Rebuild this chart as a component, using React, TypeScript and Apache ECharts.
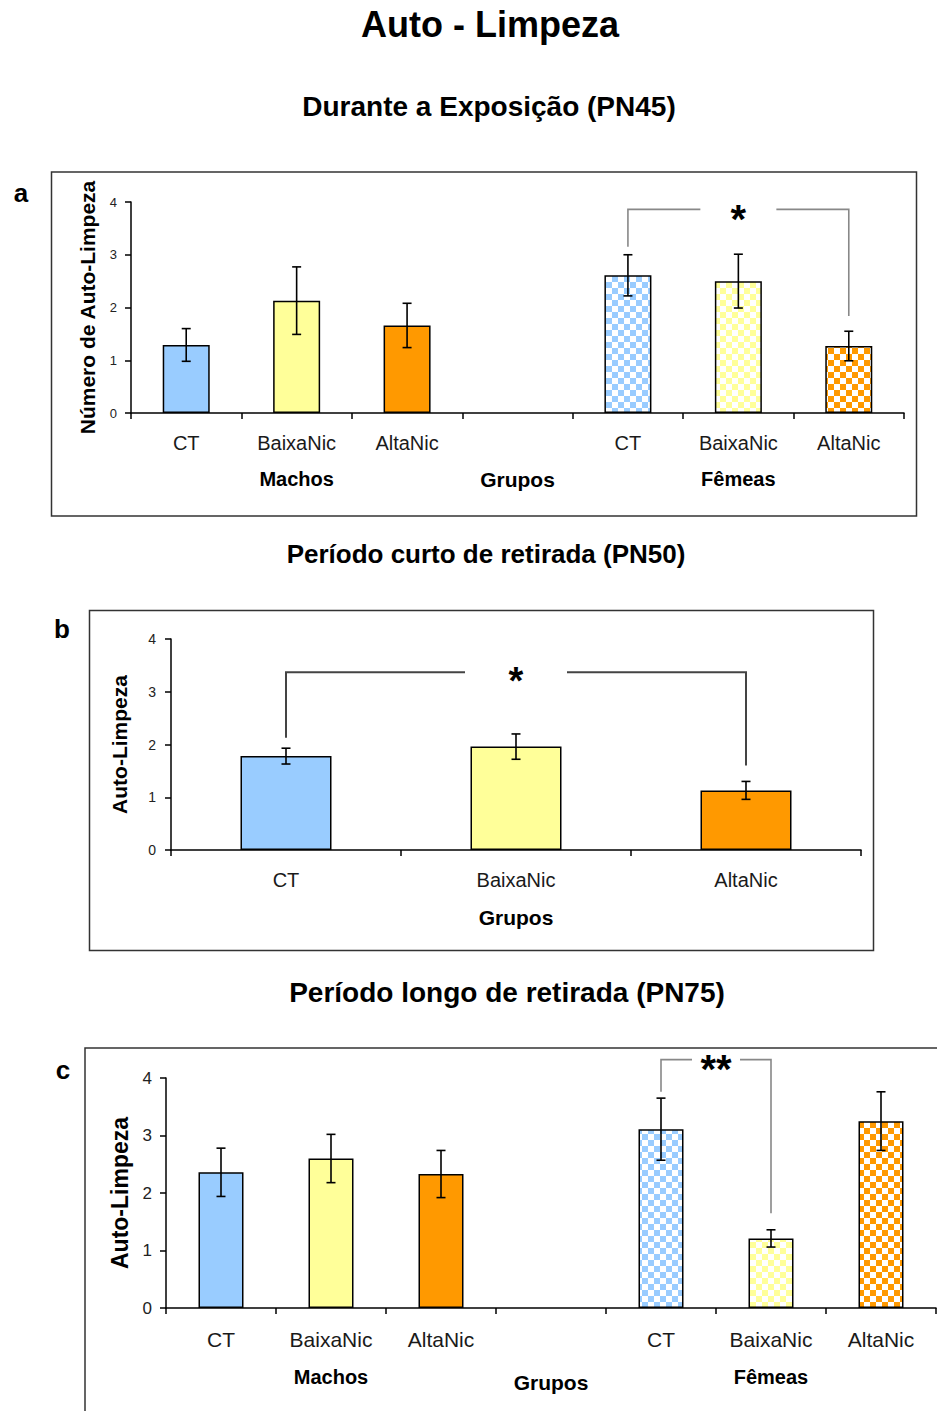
import { useEffect, useRef } from 'react';
import * as echarts from 'echarts';

const FONT = '"Liberation Sans", Arial, Helvetica, sans-serif';

// ---- data ----
const categoriesBySex = ['CT', 'BaixaNic', 'AltaNic', '', 'CT', 'BaixaNic', 'AltaNic'];
const sexLabels = ['', 'Machos', '', '', '', 'Fêmeas', ''];
const categoriesPooled = ['CT', 'BaixaNic', 'AltaNic'];
const yTicks = [0, 1, 2, 3, 4];

// PN45 – durante a exposição
const pn45Means = [1.29, 2.13, 1.66, null, 2.61, 2.5, 1.27];
const pn45Sem = [0.31, 0.64, 0.42, null, 0.39, 0.51, 0.28];
// PN50 – período curto de retirada
const pn50Means = [1.78, 1.96, 1.13];
const pn50Sem = [0.15, 0.24, 0.17];
// PN75 – período longo de retirada
const pn75Means = [2.36, 2.6, 2.33, null, 3.11, 1.21, 3.25];
const pn75Sem = [0.42, 0.42, 0.41, null, 0.54, 0.15, 0.51];

// significance brackets: [fromCategory, toCategory, yFrom, yTop, yTo]
const pn45Bracket = [4, 6, 3.15, 3.86, 1.84];
const pn50Bracket = [0, 2, 2.13, 3.37, 1.6];
const pn75Bracket = [4, 5, 3.76, 4.32, 1.65];
const pn45Sig = '*';
const pn50Sig = '*';
const pn75Sig = '**';

const groupColors = ['#99CCFF', '#FFFF99', '#FF9900'];

function checker(color: string, cell = 6) {
  const c = document.createElement('canvas');
  c.width = cell * 2;
  c.height = cell * 2;
  const ctx = c.getContext('2d')!;
  ctx.fillStyle = '#ffffff';
  ctx.fillRect(0, 0, cell * 2, cell * 2);
  ctx.fillStyle = color;
  ctx.fillRect(0, 0, cell, cell);
  ctx.fillRect(cell, cell, cell, cell);
  return { image: c, repeat: 'repeat' };
}

function barData(means: (number | null)[], sexed: boolean) {
  return means.map((v, i) => {
    if (v == null) return '-';
    const ci = i % 4;
    const female = sexed && i >= 4;
    return {
      value: v,
      itemStyle: { color: female ? checker(groupColors[ci]) : groupColors[ci] },
    };
  });
}

function errData(means: (number | null)[], sem: (number | null)[]) {
  const out: number[][] = [];
  means.forEach((m, i) => {
    if (m != null && sem[i] != null) out.push([i, m - (sem[i] as number), m + (sem[i] as number)]);
  });
  return out;
}

function errSeries(xi: number, yi: number, data: number[][]) {
  return {
    type: 'custom',
    xAxisIndex: xi,
    yAxisIndex: yi,
    data,
    encode: { x: 0, y: [1, 2] },
    clip: false,
    silent: true,
    z: 10,
    renderItem: (_p: any, api: any) => {
      const x = api.value(0);
      const a = api.coord([x, api.value(2)]);
      const b = api.coord([x, api.value(1)]);
      const hw = 4.5;
      const st = { stroke: '#000', lineWidth: 1.6 };
      return {
        type: 'group',
        children: [
          { type: 'line', shape: { x1: a[0], y1: a[1], x2: b[0], y2: b[1] }, style: st },
          { type: 'line', shape: { x1: a[0] - hw, y1: a[1], x2: a[0] + hw, y2: a[1] }, style: st },
          { type: 'line', shape: { x1: b[0] - hw, y1: b[1], x2: b[0] + hw, y2: b[1] }, style: st },
        ],
      };
    },
  };
}

function bracketSeries(
  xi: number,
  yi: number,
  br: number[],
  label: string,
  gap: number,
  color: string,
  lw: number,
  fs: number
) {
  return {
    type: 'custom',
    xAxisIndex: xi,
    yAxisIndex: yi,
    data: [br],
    encode: { x: 0, y: 2 },
    clip: false,
    silent: true,
    z: 11,
    renderItem: (_p: any, api: any) => {
      const f = api.value(0);
      const t = api.value(1);
      const p1 = api.coord([f, api.value(2)]);
      const p2 = api.coord([f, api.value(3)]);
      const p3 = api.coord([t, api.value(3)]);
      const p4 = api.coord([t, api.value(4)]);
      const mid = (p2[0] + p3[0]) / 2;
      const st = { stroke: color, lineWidth: lw, fill: null };
      return {
        type: 'group',
        children: [
          { type: 'polyline', shape: { points: [p1, p2, [mid - gap, p2[1]]] }, style: st },
          { type: 'polyline', shape: { points: [[mid + gap, p3[1]], p3, p4] }, style: st },
          {
            type: 'text',
            x: mid,
            y: p2[1] + fs * 0.24,
            style: {
              text: label,
              fill: '#000',
              font: `bold ${fs}px ${FONT}`,
              align: 'center',
              verticalAlign: 'middle',
            },
          },
        ],
      };
    },
  };
}

function catAxis(grid: number, data: string[], fs: number, margin: number, nameGap: number) {
  return {
    type: 'category',
    gridIndex: grid,
    data,
    boundaryGap: true,
    name: 'Grupos',
    nameLocation: 'middle',
    nameGap,
    nameTextStyle: { fontFamily: FONT, fontWeight: 'bold', fontSize: 21, color: '#000' },
    axisLine: { show: true, lineStyle: { color: '#000', width: 1.5 } },
    axisTick: { show: true, interval: 0, length: 6, lineStyle: { color: '#000', width: 1.5 } },
    axisLabel: { interval: 0, margin, fontFamily: FONT, fontSize: fs, color: '#1a1a1a' },
  };
}

function sexAxis(grid: number, fs: number, margin: number) {
  return {
    type: 'category',
    gridIndex: grid,
    data: sexLabels,
    position: 'bottom',
    axisLine: { show: false },
    axisTick: { show: false },
    axisLabel: { interval: 0, margin, fontFamily: FONT, fontSize: fs, fontWeight: 'bold', color: '#000' },
  };
}

function valAxis(grid: number, name: string, nameFs: number, nameGap: number, tickFs: number, margin: number) {
  return {
    type: 'value',
    gridIndex: grid,
    min: yTicks[0],
    max: yTicks[yTicks.length - 1],
    interval: 1,
    name,
    nameLocation: 'middle',
    nameGap,
    nameRotate: 90,
    nameTextStyle: { fontFamily: FONT, fontWeight: 'bold', fontSize: nameFs, color: '#000' },
    splitLine: { show: false },
    axisLine: { show: true, lineStyle: { color: '#000', width: 1.5 } },
    axisTick: { show: true, length: 6, lineStyle: { color: '#000', width: 1.5 } },
    axisLabel: { margin, fontFamily: FONT, fontSize: tickFs, color: '#222' },
  };
}

const barBorder = { borderColor: '#000', borderWidth: 1.5 };

export default function App() {
  const ref = useRef<HTMLDivElement>(null);
  useEffect(() => {
    if (!ref.current) return;
    const chart = echarts.init(ref.current, null, { renderer: 'svg' });
    const option: any = {
      animation: false,
      backgroundColor: '#ffffff',
      grid: [
        { left: 131, top: 202, width: 773, height: 211 },
        { left: 171, top: 639, width: 690, height: 211 },
        { left: 166, top: 1078, width: 770, height: 230 },
      ],
      xAxis: [
        catAxis(0, categoriesBySex, 20, 20, 56),
        sexAxis(0, 20, 56),
        catAxis(1, categoriesPooled, 20, 20, 57),
        catAxis(2, categoriesBySex, 21, 21, 64),
        sexAxis(2, 20, 59),
      ],
      yAxis: [
        valAxis(0, 'Número de Auto-Limpeza', 21, 33, 13, 14),
        valAxis(1, 'Auto-Limpeza', 21, 41, 14, 15),
        valAxis(2, 'Auto-Limpeza', 23, 34, 17, 14),
      ],
      graphic: [
        { type: 'text', x: 490, y: 24, style: { text: 'Auto - Limpeza', font: `bold 36px ${FONT}`, fill: '#000', align: 'center', verticalAlign: 'middle' } },
        { type: 'text', x: 489, y: 106, style: { text: 'Durante a Exposição (PN45)', font: `bold 28px ${FONT}`, fill: '#000', align: 'center', verticalAlign: 'middle' } },
        { type: 'text', x: 486, y: 554, style: { text: 'Período curto de retirada (PN50)', font: `bold 26px ${FONT}`, fill: '#000', align: 'center', verticalAlign: 'middle' } },
        { type: 'text', x: 507, y: 992, style: { text: 'Período longo de retirada (PN75)', font: `bold 28px ${FONT}`, fill: '#000', align: 'center', verticalAlign: 'middle' } },
        { type: 'text', x: 21, y: 193, style: { text: 'a', font: `bold 26px ${FONT}`, fill: '#000', align: 'center', verticalAlign: 'middle' } },
        { type: 'text', x: 62, y: 629, style: { text: 'b', font: `bold 26px ${FONT}`, fill: '#000', align: 'center', verticalAlign: 'middle' } },
        { type: 'text', x: 63, y: 1070, style: { text: 'c', font: `bold 26px ${FONT}`, fill: '#000', align: 'center', verticalAlign: 'middle' } },
        { type: 'rect', shape: { x: 51.5, y: 172, width: 865, height: 344 }, style: { fill: 'none', stroke: '#333', lineWidth: 1.5 }, z: -1 },
        { type: 'rect', shape: { x: 89.5, y: 610.5, width: 784, height: 340 }, style: { fill: 'none', stroke: '#333', lineWidth: 1.5 }, z: -1 },
        { type: 'rect', shape: { x: 85, y: 1048, width: 900, height: 500 }, style: { fill: 'none', stroke: '#333', lineWidth: 1.5 }, z: -1 },
      ],
      series: [
        { type: 'bar', xAxisIndex: 0, yAxisIndex: 0, barWidth: 47, data: barData(pn45Means, true), itemStyle: barBorder },
        errSeries(0, 0, errData(pn45Means, pn45Sem)),
        bracketSeries(0, 0, pn45Bracket, pn45Sig, 38, '#888', 1.6, 40),
        { type: 'bar', xAxisIndex: 2, yAxisIndex: 1, barWidth: 91, data: barData(pn50Means, false), itemStyle: barBorder },
        errSeries(2, 1, errData(pn50Means, pn50Sem)),
        bracketSeries(2, 1, pn50Bracket, pn50Sig, 51, '#444', 2, 38),
        { type: 'bar', xAxisIndex: 3, yAxisIndex: 2, barWidth: 45, data: barData(pn75Means, true), itemStyle: barBorder },
        errSeries(3, 2, errData(pn75Means, pn75Sem)),
        bracketSeries(3, 2, pn75Bracket, pn75Sig, 24, '#888', 1.6, 40),
      ],
    };
    chart.setOption(option);
    return () => chart.dispose();
  }, []);
  return (
    <div
      ref={ref}
      style={{ position: 'absolute', left: 0, top: 0, width: 937, height: 1411, background: '#fff' }}
    />
  );
}
